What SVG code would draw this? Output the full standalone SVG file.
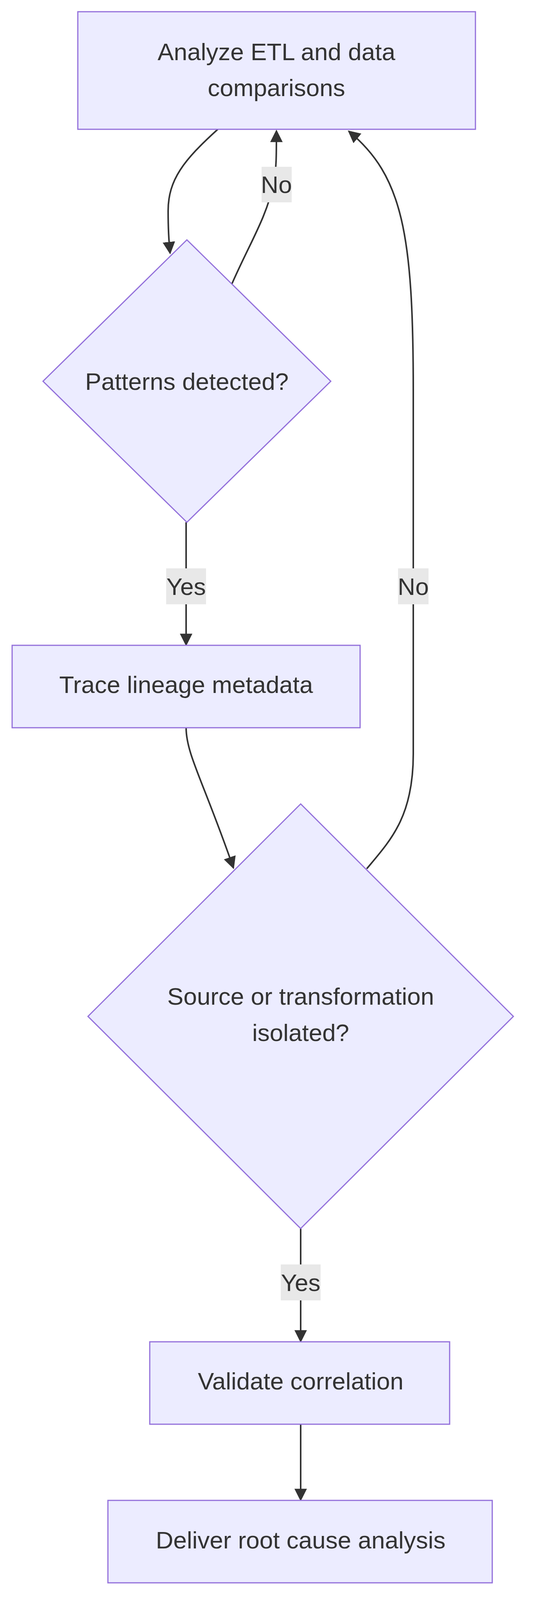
<svg xmlns="http://www.w3.org/2000/svg" width="1376" height="4180" viewBox="0 0 1376 4180">
<style>
.n{fill:#ececff;stroke:#9370db;stroke-width:3}
.t{font-family:"Liberation Sans",Arial,sans-serif;font-size:62px;fill:#333;text-anchor:middle;dominant-baseline:central}
.e{fill:none;stroke:#333;stroke-width:4}
.lb{fill:#e8e8e8}
</style>
<defs><marker id="a" viewBox="0 0 10 10" refX="9" refY="5" markerWidth="8" markerHeight="8" markerUnits="userSpaceOnUse" orient="auto"><path d="M0,0L10,5L0,10z" fill="#333"/></marker>
<marker id="ah" viewBox="0 0 10 10" refX="9" refY="5" markerWidth="32" markerHeight="32" markerUnits="userSpaceOnUse" orient="auto"><path d="M0,0L10,5L0,10z" fill="#333"/></marker></defs>
<g id="edges">
<path class="e" d="M557,331 C470,410 430,460 430,540 C430,590 432,620 435,648" marker-end="url(#ah)"/>
<path class="e" d="M593,727 C640,620 680,560 700,470 C707,430 707,400 707,335" marker-end="url(#ah)"/>
<path class="e" d="M938,2224 C1000,2150 1057,2090 1057,1930 L1057,1000 C1057,600 1030,450 892,336" marker-end="url(#ah)"/>
<path class="e" d="M476,1337 L476,1651" marker-end="url(#ah)"/>
<path class="e" d="M476,1863 C476,1930 520,2000 597,2222" marker-end="url(#ah)"/>
<path class="e" d="M769,3145 L769,3434" marker-end="url(#ah)"/>
<path class="e" d="M769,3646 L769,3840" marker-end="url(#ah)"/>
<rect class="lb" x="669" y="427" width="77" height="91"/><text class="t" x="707" y="472">No</text>
<rect class="lb" x="425" y="1455" width="102" height="92"/><text class="t" x="476" y="1501">Yes</text>
<rect class="lb" x="1018" y="1455" width="78" height="92"/><text class="t" x="1057" y="1501">No</text>
<rect class="lb" x="718" y="3237" width="102" height="92"/><text class="t" x="769" y="3283">Yes</text>
</g>
<g id="n1"><rect class="n" x="199" y="30" width="1017" height="301"/><text class="t" x="707" y="132">Analyze ETL and data</text><text class="t" x="707" y="224">comparisons</text></g>
<g id="n2"><polygon class="n" points="478,614 846,976 478,1337 110,976"/><text class="t" x="478" y="976">Patterns detected?</text></g>
<g id="n3"><rect class="n" x="31" y="1652" width="890" height="211"/><text class="t" x="476" y="1752">Trace lineage metadata</text></g>
<g id="n4"><polygon class="n" points="769,2058 1313,2602 769,3145 225,2602"/><text class="t" x="769" y="2550">Source or transformation</text><text class="t" x="769" y="2643">isolated?</text></g>
<g id="n5"><rect class="n" x="383" y="3435" width="767" height="211"/><text class="t" x="769" y="3535">Validate correlation</text></g>
<g id="n6"><rect class="n" x="276" y="3841" width="983" height="211"/><text class="t" x="769" y="3942">Deliver root cause analysis</text></g>
</svg>
